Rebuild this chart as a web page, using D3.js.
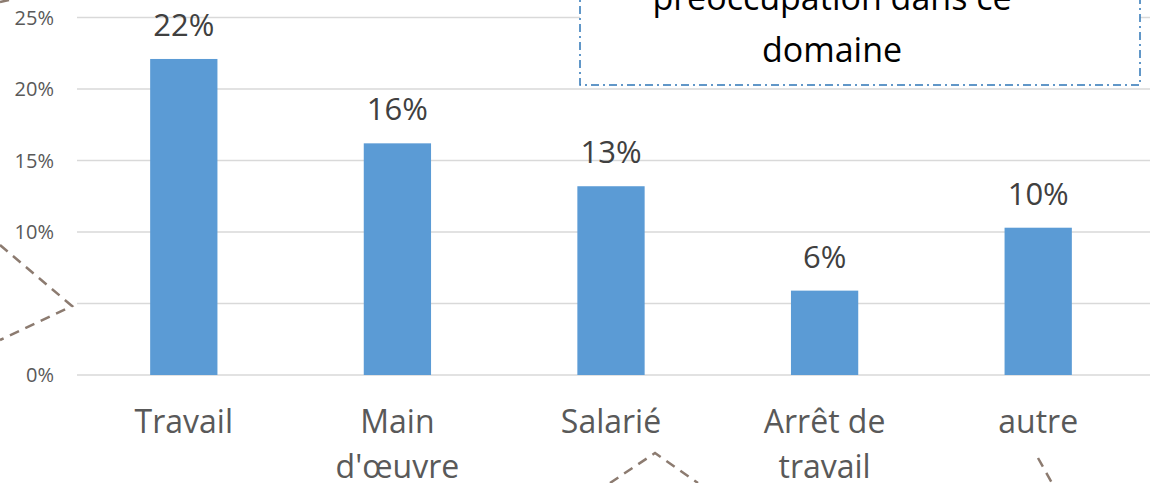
<!DOCTYPE html>
<html lang="fr">
<head>
<meta charset="UTF-8">
<title>Préoccupation</title>
<script src="https://cdnjs.cloudflare.com/ajax/libs/d3/7.9.0/d3.min.js"></script>
<style>
  body { margin: 0; background: #fff; }
  text { font-family: "Open Sans", sans-serif; }
</style>
</head>
<body>
<svg id="chart" width="1150" height="483"></svg>
<script>
// categories (multi-line labels) and their share
const categories = [["Travail"], ["Main", "d'œuvre"], ["Salarié"], ["Arrêt de", "travail"], ["autre"]];
const values = [22.1, 16.2, 13.2, 5.9, 10.3];
const valueLabels = ["22%", "16%", "13%", "6%", "10%"];
const ticks = [0, 5, 10, 15, 20, 25];
// the 5% label is hidden behind a shape in the original slide
const tickLabels = ["0%", "", "10%", "15%", "20%", "25%"];
const titleLines = ["préoccupation dans ce", "domaine"];

const svg = d3.select("#chart");

const x = d3.scaleBand()
    .domain(d3.range(categories.length))
    .range([77, 1145])
    .paddingInner(0.685)
    .paddingOuter(0.3425);

const y = d3.scaleLinear()
    .domain([0, 25])
    .range([375, 17.5]);

// gridlines
svg.append("g")
    .selectAll("line")
    .data(ticks)
    .join("line")
    .attr("x1", 77)
    .attr("x2", 1150)
    .attr("y1", d => y(d))
    .attr("y2", d => y(d))
    .attr("stroke", "#d9d9d9")
    .attr("stroke-width", 1.5);

// y tick labels
svg.append("g")
    .selectAll("text")
    .data(ticks)
    .join("text")
    .attr("x", 54)
    .attr("y", d => y(d) + 7)
    .attr("text-anchor", "end")
    .attr("font-size", 20)
    .attr("fill", "#595959")
    .text((d, i) => tickLabels[i]);

// bars
svg.append("g")
    .selectAll("rect")
    .data(values)
    .join("rect")
    .attr("x", (d, i) => x(i))
    .attr("y", d => y(d))
    .attr("width", x.bandwidth())
    .attr("height", d => y(0) - y(d))
    .attr("fill", "#5b9bd5");

// value labels
svg.append("g")
    .selectAll("text")
    .data(values)
    .join("text")
    .attr("x", (d, i) => x(i) + x.bandwidth() / 2)
    .attr("y", d => y(d) - 23)
    .attr("text-anchor", "middle")
    .attr("font-size", 31)
    .attr("fill", "#404040")
    .text((d, i) => valueLabels[i]);

// category labels
const cat = svg.append("g")
    .selectAll("text")
    .data(categories)
    .join("text")
    .attr("x", (d, i) => x(i) + x.bandwidth() / 2)
    .attr("y", 433)
    .attr("text-anchor", "middle")
    .attr("font-size", 32)
    .attr("fill", "#595959");

cat.selectAll("tspan")
    .data(d => d)
    .join("tspan")
    .attr("x", function () { return d3.select(this.parentNode).attr("x"); })
    .attr("dy", (d, i) => i === 0 ? 0 : 45)
    .text(d => d);

// title box (cut off at top)
svg.append("rect")
    .attr("x", 580)
    .attr("y", -20)
    .attr("width", 560)
    .attr("height", 105)
    .attr("fill", "#fff")
    .attr("stroke", "#2e75b6")
    .attr("stroke-width", 1.5)
    .attr("stroke-dasharray", "8,4,2,4");

svg.append("g")
    .selectAll("text")
    .data(titleLines)
    .join("text")
    .attr("x", 832)
    .attr("y", (d, i) => 10 + i * 52)
    .attr("text-anchor", "middle")
    .attr("font-size", 34)
    .attr("fill", "#000")
    .text(d => d);

// leftover dashed connector shapes from the slide
const line = d3.line();
const connectors = [
    [[0, 2], [9, 0]],
    [[0, 245], [72, 306], [0, 340]],
    [[610, 483], [655, 453], [698, 483]],
    [[1038, 458], [1052, 483]]
];
svg.append("g")
    .selectAll("path")
    .data(connectors)
    .join("path")
    .attr("d", d => line(d))
    .attr("fill", "none")
    .attr("stroke", "#8c7b70")
    .attr("stroke-width", 2.5)
    .attr("stroke-dasharray", "10,7");
</script>
</body>
</html>
